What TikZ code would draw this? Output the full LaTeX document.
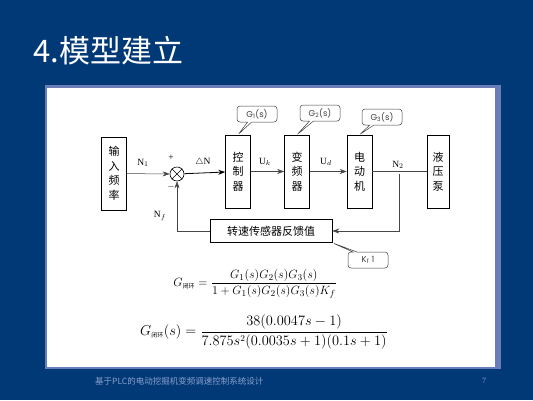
\documentclass[tikz,border=0pt]{standalone}
\usepackage{amsmath}
\usepackage{fontspec}
\setmainfont{Liberation Serif}
\newfontfamily\cjk{Noto Sans CJK SC}
\newfontfamily\tagfont{Poppins}
\usetikzlibrary{arrows.meta,shapes.callouts,positioning}
\definecolor{slideblue}{RGB}{0,57,118}
\definecolor{slideshadow}{RGB}{105,125,185}
\definecolor{footgray}{RGB}{140,160,205}
\definecolor{linegray}{RGB}{70,70,70}
\tikzstyle{arrow} = [line width=0.5pt,->,>={Stealth[length=7pt,width=5pt]},color=linegray]
\tikzstyle{link} = [line width=0.5pt,color=linegray]
\tikzstyle{block} = [rectangle, draw=black, line width=0.6pt, minimum width=25pt, minimum height=73pt, align=center, inner sep=0pt, font=\cjk\fontsize{11}{14.5}\selectfont]
\tikzstyle{tag} = [rectangle callout, rounded corners=3pt, draw=black!75, line width=0.5pt, fill=white, minimum width=40pt, minimum height=16pt, inner sep=1pt, text=black!75, font=\tagfont\fontsize{8.5}{8.5}\selectfont, callout pointer width=4pt]
\tikzstyle{sig} = [inner sep=0pt, font=\fontsize{9.5}{9.5}\selectfont]
\newcommand{\bihuan}{\text{\cjk\fontsize{6}{6}\selectfont 闭环}}

\begin{document}
\begin{tikzpicture}[x=1pt,y=-1pt]
% slide
\fill[slideblue] (0,0) rectangle (533,400);
\useasboundingbox (0,0) rectangle (533,400);
\fill[slideshadow] (45,85) rectangle (501,369);
\fill[white] (47,88) rectangle (495,367);
\node (title) [anchor=base west, inner sep=0pt, text=white, font=\cjk\fontsize{31}{31}\selectfont] at (33,62) {4.模型建立};

% Loop blocks
\node (input) [block] at (114,173.5) {输\\入\\频\\率};
\node (sum) [circle, draw, line width=0.6pt, minimum size=14pt, inner sep=0pt] at (177,174) {};
\draw[line width=0.6pt] (sum.north west) -- (sum.south east) (sum.north east) -- (sum.south west);
\node (ctrl) [block] at (238,171.5) {控\\制\\器};
\node (inv) [block] at (297,171.5) {变\\频\\器};
\node (motor) [block] at (359.5,171.5) {电\\动\\机};
\node (pump) [block, minimum width=22pt] at (438,171.5) {液\\压\\泵};
\node (fb) [rectangle, draw=black, line width=0.6pt, minimum width=122pt, minimum height=23pt, font=\cjk\fontsize{11}{11}\selectfont] at (271,231) {转速传感器反馈值};
\coordinate (tap) at (399,174);

% Signals
\draw[arrow] (input) -- (sum);
\draw[arrow, color=black, line width=0.8pt] (sum) -- (ctrl);
\draw[arrow] (ctrl) -- (inv);
\draw[arrow] (inv) -- (motor);
\draw[link] (motor) -- (pump);
\draw[arrow] (tap) |- (fb);
\draw[arrow] (fb) -| (sum);

\node (n1) [sig] at (143,163) {N$_1$};
\node (plus) [sig] at (171,158) {+};
\node (minus) [sig] at (171,187) {$-$};
\node (dn) [sig] at (203,162) {$\triangle$N};
\node (uk) [sig] at (265,162) {U$_k$};
\node (ud) [sig] at (326,162) {U$_d$};
\node (n2) [sig] at (398,165) {N$_2$};
\node (nf) [sig] at (160,216) {N$_f$};

% Transfer function tags
\node (g1) [tag, callout absolute pointer={(ctrl.north)}] at (257,114) {G\textsubscript{1}(s)};
\node (g2) [tag, callout absolute pointer={(inv.north)}] at (320,113) {G\textsubscript{2}(s)};
\node (g3) [tag, callout absolute pointer={(motor.north)}] at (382,117) {G\textsubscript{3}(s)};
\node (kf) [tag, callout absolute pointer={(fb.south east)}] at (368,260) {K\textsubscript{f} 1};

% Formulas
\node (closed) [font=\fontsize{12.5}{14}\selectfont] at (255,284) {$G_{\bihuan}=\dfrac{G_1(s)G_2(s)G_3(s)}{1+G_1(s)G_2(s)G_3(s)K_f}$};
\node (closeds) [font=\fontsize{13.5}{15}\selectfont] at (264,332) {$G_{\bihuan}(s)=\dfrac{38(0.0047s-1)}{7.875s^2(0.0035s+1)(0.1s+1)}$};

% Footer
\node (foot) [anchor=west, inner sep=0pt, text=footgray, font=\cjk\fontsize{8.5}{9}\selectfont] at (95,381) {基于PLC的电动挖掘机变频调速控制系统设计};
\node (page) [inner sep=0pt, text=footgray, font=\fontsize{8}{8}\selectfont] at (484,381) {7};
\end{tikzpicture}
\end{document}
